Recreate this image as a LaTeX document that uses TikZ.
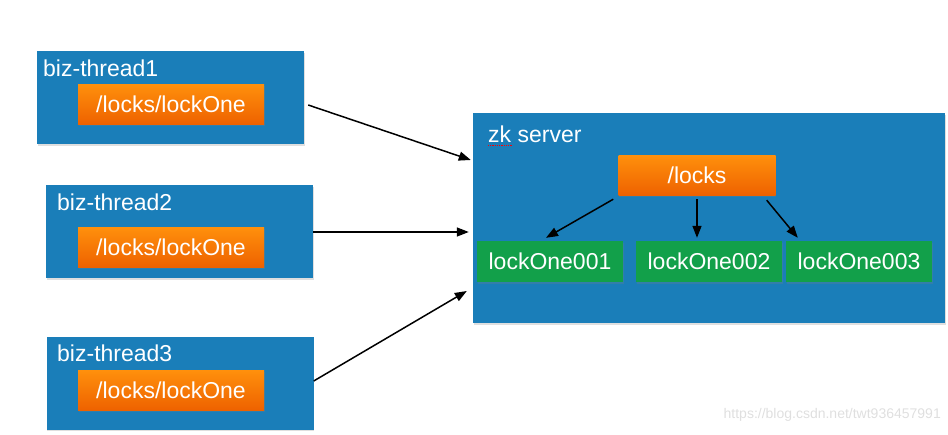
\documentclass[tikz,border=0pt]{standalone}
\usepackage{fontspec}
\setmainfont{Liberation Sans}
\usepackage{xcolor}
\usepackage{tikz}
\usetikzlibrary{shapes,arrows}
\usetikzlibrary{positioning}
\usetikzlibrary{arrows.meta}
\usetikzlibrary{shadows}
\tikzset{>=stealth}
\definecolor{bizblue}{HTML}{1A7EB9}
\definecolor{lockorangetop}{HTML}{FF900C}
\definecolor{lockorangebot}{HTML}{EE6200}
\definecolor{seqgreen}{HTML}{12A04A}
\tikzstyle{line} = [draw, line width=1.5pt, -{Triangle[length=12pt,width=9pt]}]
\tikzstyle{boxshadow} = [drop shadow={opacity=0.25, shadow xshift=0.8pt, shadow yshift=-1.5pt}]

\begin{document}
\begin{tikzpicture}[x=1pt, y=-1pt, font=\fontsize{23}{27}\selectfont,
client/.style={boxshadow, fill=bizblue, minimum width=267pt,
minimum height=93pt, inner sep=0pt},
znode/.style={boxshadow, top color=lockorangetop, bottom color=lockorangebot,
text=white, minimum height=40pt, inner sep=0pt},
seq/.style={boxshadow, fill=seqgreen, text=white, minimum width=146pt,
minimum height=41pt, inner sep=0pt},
tag/.style={text=white, anchor=west, inner sep=0pt}]
\useasboundingbox (0,0) rectangle (948,434);
%% Clients
\node [client] (T1) at (170.5,97.5) {};
\node [client] (T2) at (179.5,231.5) {};
\node [client] (T3) at (180,383) {};
\node [tag] (L1) at (43,68) {biz-thread1};
\node [tag] (L2) at (57,202) {biz-thread2};
\node [tag] (L3) at (57,353) {biz-thread3};
\node [znode, minimum width=186pt] (P1) at (171,104) {/locks/lockOne};
\node [znode, minimum width=186pt] (P2) at (171,247) {/locks/lockOne};
\node [znode, minimum width=186pt] (P3) at (171,390) {/locks/lockOne};
%% Server
\node [client, minimum width=472pt, minimum height=210pt] (S) at (709,218) {};
\node [tag] (LS) at (488,134) {zk server};
\draw [red, densely dotted, thick] ([yshift=-3pt]LS.south west) -- ++(24,0);
\node [znode, minimum width=157pt] (locks) at (697,175) {/locks};
\node [seq] (Q1) at (550,261.5) {lockOne001};
\node [seq] (Q2) at (709,261.5) {lockOne002};
\node [seq] (Q3) at (859,261.5) {lockOne003};
%% Requests
\path [line] ([xshift=4pt,yshift=-7.5pt]T1.east) to ([xshift=-2pt,yshift=58pt]S.west);
\path [line] ([yshift=-0.5pt]T2.east) to ([xshift=-4pt,yshift=-14pt]S.west);
\path [line] ([yshift=2pt]T3.east) to ([xshift=-6pt,yshift=-73pt]S.west);
%% Children
\path [line] ([xshift=-5pt,yshift=-4pt]locks.south west) to ([xshift=-4pt,yshift=3pt]Q1.north);
\path [line] ([yshift=-4pt]locks.south) to ([yshift=3pt]locks.south |- Q2.north);
\path [line] ([xshift=-9pt,yshift=-5pt]locks.south east) to ([xshift=12pt,yshift=3pt]Q3.north west);
%% Watermark
\node [text=gray!25, font=\fontsize{14}{16}\selectfont, anchor=east, inner sep=0pt] (W) at (941,415) {https://blog.csdn.net/twt936457991};
\end{tikzpicture}
\end{document}
